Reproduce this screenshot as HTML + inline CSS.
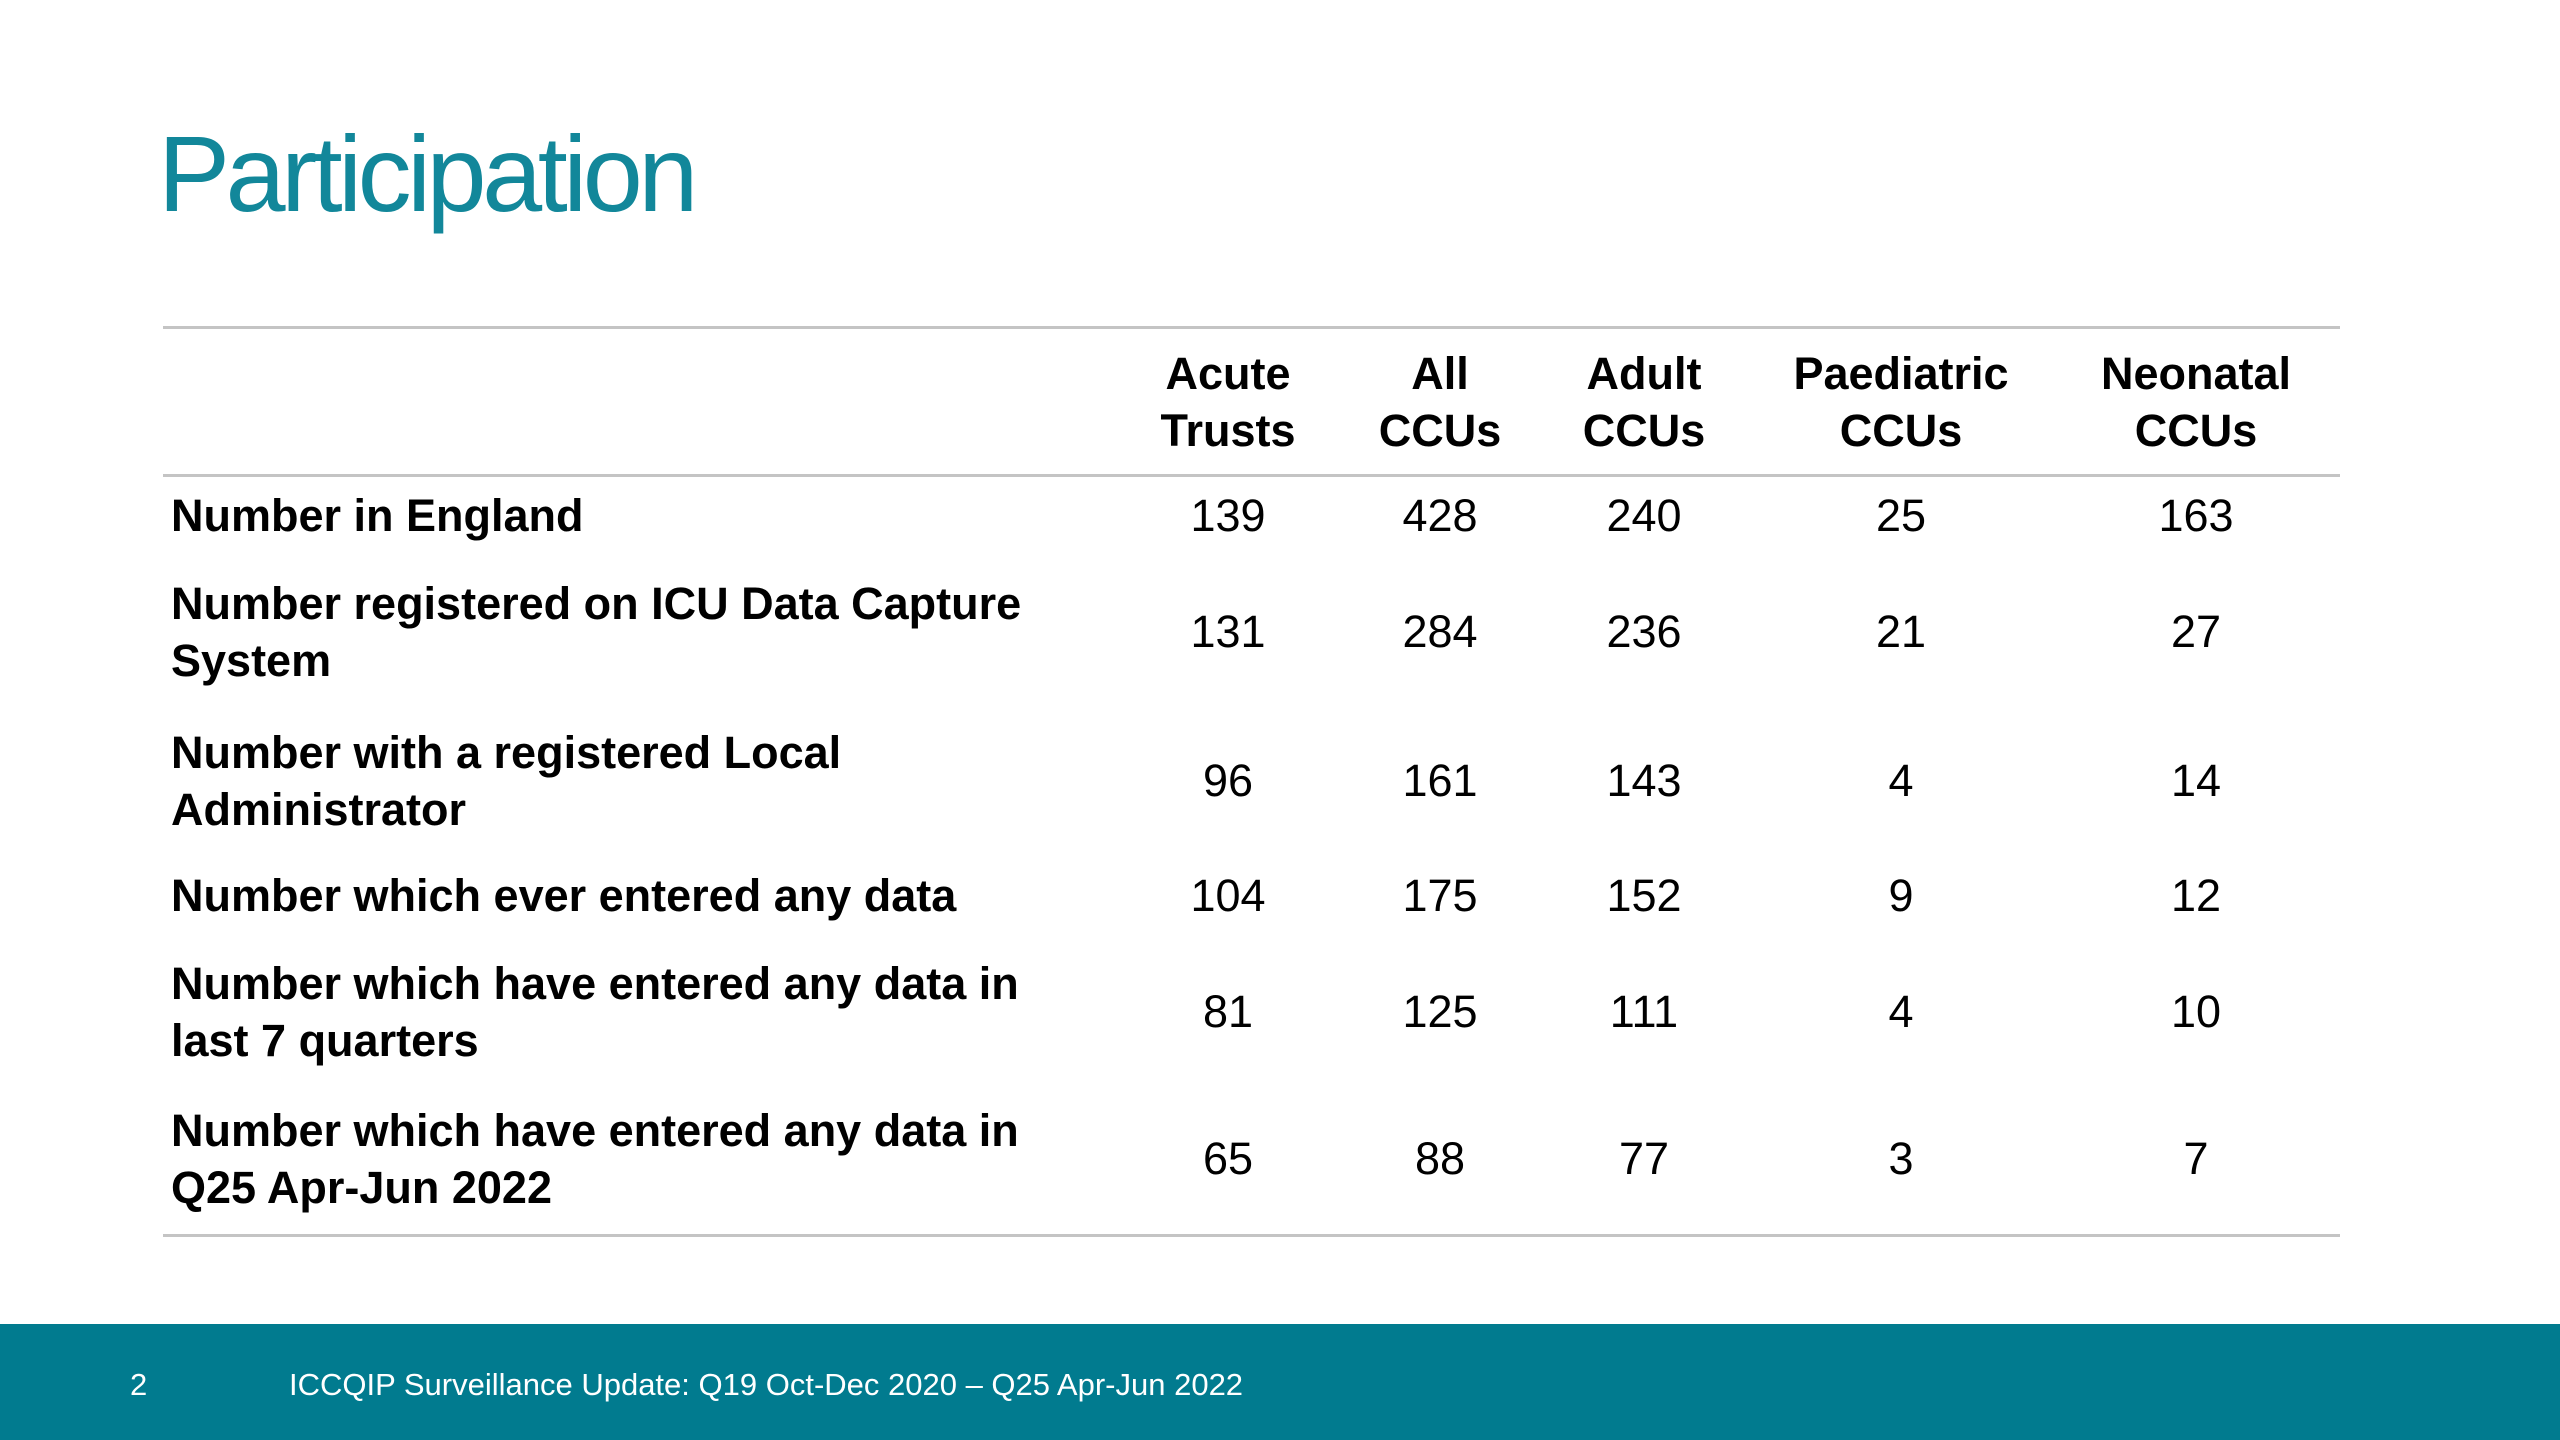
<!DOCTYPE html>
<html><head><meta charset="utf-8"><style>
body{margin:0;width:2560px;height:1440px;position:relative;background:#fff;font-family:"Liberation Sans",Arial,sans-serif;overflow:hidden;color:#000}
.a{position:absolute;white-space:nowrap}
.rule{position:absolute;left:163px;width:2177px;height:3px;background:#c4c4c4}
.h{font-weight:bold;font-size:45px;text-align:center;width:400px;margin-left:-200px;line-height:1}
.l{font-weight:bold;font-size:45px;left:171px;line-height:1}
.v{font-size:45px;text-align:center;width:300px;margin-left:-150px;line-height:1}
</style></head><body>
<div class="a" style="left:158px;top:120px;font-size:108px;letter-spacing:-4.5px;color:#12879a;line-height:1">Participation</div>
<div class="rule" style="top:326px"></div>
<div class="rule" style="top:474px"></div>
<div class="rule" style="top:1234px"></div>
<div id="tbl"></div>
<div class="a" style="left:0;top:1324px;width:2560px;height:116px;background:#017b8f"></div>
<div class="a" style="left:130px;top:1369px;font-size:31px;color:#fff;line-height:1">2</div>
<div class="a" style="left:289px;top:1369px;font-size:31px;color:#fff;line-height:1">ICCQIP Surveillance Update: Q19 Oct-Dec 2020 – Q25 Apr-Jun 2022</div>
<script>
const columns=[["Acute","Trusts"],["All","CCUs"],["Adult","CCUs"],["Paediatric","CCUs"],["Neonatal","CCUs"]];
const rowLabels=[["Number in England"],["Number registered on ICU Data Capture","System"],["Number with a registered Local","Administrator"],["Number which ever entered any data"],["Number which have entered any data in","last 7 quarters"],["Number which have entered any data in","Q25 Apr-Jun 2022"]];
const acute=[139,131,96,104,81,65];
const allCCUs=[428,284,161,175,125,88];
const adult=[240,236,143,152,111,77];
const paed=[25,21,4,9,4,3];
const neo=[163,27,14,12,10,7];
const colX=[1228,1440,1644,1901,2196];
const rowY=[534,650,799,914,1030,1177];
const tbl=document.getElementById('tbl');
const asc=0.905*45;
function add(cls,txt,x,baseline,name){
  const d=document.createElement('div');
  d.className='a '+cls;
  d.textContent=txt;
  d.style.left=x+'px';
  d.style.top=(baseline-asc)+'px';
  
  
  tbl.appendChild(d);
}
columns.forEach((c,i)=>{c.forEach((t,j)=>add('h',t,colX[i],392+j*57,'column-header'));});
const series=[acute,allCCUs,adult,paed,neo];
rowLabels.forEach((lab,r)=>{
  const off=lab.length>1?-28:0;
  lab.forEach((t,j)=>add('l',t,171,rowY[r]+off+j*57,'row-label'));
  series.forEach((s,c)=>add('v',String(s[r]),colX[c],rowY[r],'table-value'));
});
</script>
</body></html>
